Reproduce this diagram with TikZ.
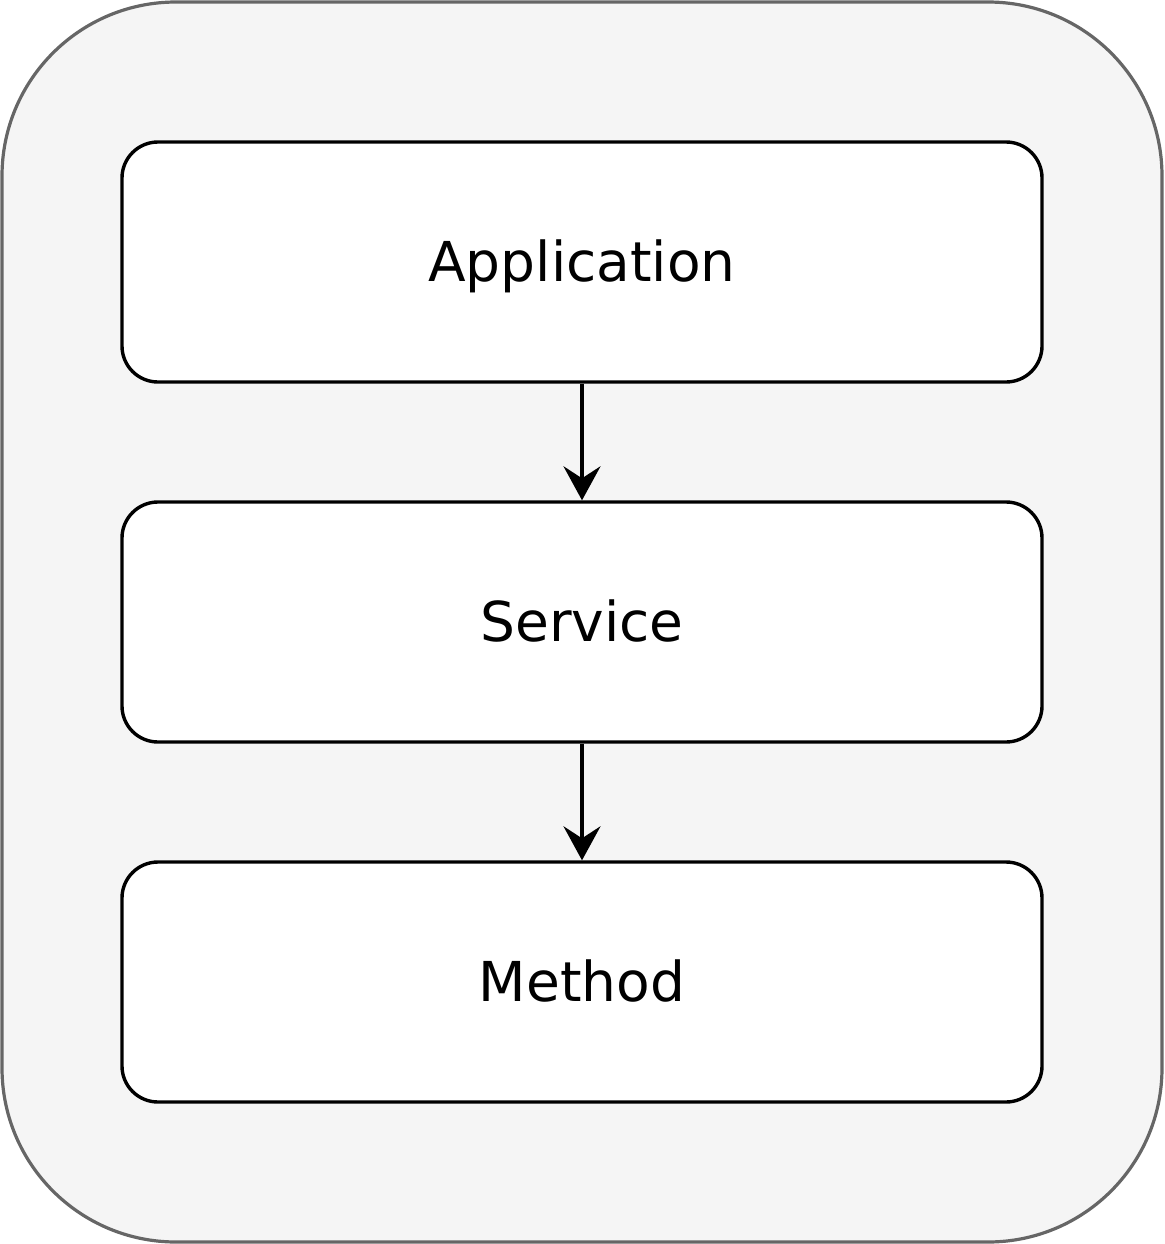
\documentclass[tikz,border=0pt]{standalone}
\usepackage{fontspec}
\setmainfont{DejaVu Sans}
\usetikzlibrary{arrows.meta}
\definecolor{outerfill}{HTML}{F5F5F5}
\definecolor{outerline}{HTML}{666666}
\begin{document}
\begin{tikzpicture}[x=1pt,y=-1pt,
  layerbox/.style={draw=black, fill=white, line width=3.4pt, rounded corners=36pt,
    minimum width=920pt, minimum height=240pt, inner sep=0pt,
    text height=40pt, text depth=2pt,
    font=\fontsize{55}{60}\selectfont},
  flow/.style={line width=3.4pt, -{Stealth[length=34pt,width=37pt,inset=12pt]}}]
\useasboundingbox (0,0) rectangle (1164,1244);
\node[draw=outerline, fill=outerfill, line width=3.2pt, rounded corners=174pt,
  minimum width=1160pt, minimum height=1240pt, inner sep=0pt] (outer) at (582,622) {};
\node[layerbox] (app) at (582,262) {Application};
\node[layerbox] (svc) at (582,622) {Service};
\node[layerbox] (mth) at (582,982) {Method};
\draw[flow] (app) -- (svc);
\draw[flow] (svc) -- (mth);
\end{tikzpicture}
\end{document}
